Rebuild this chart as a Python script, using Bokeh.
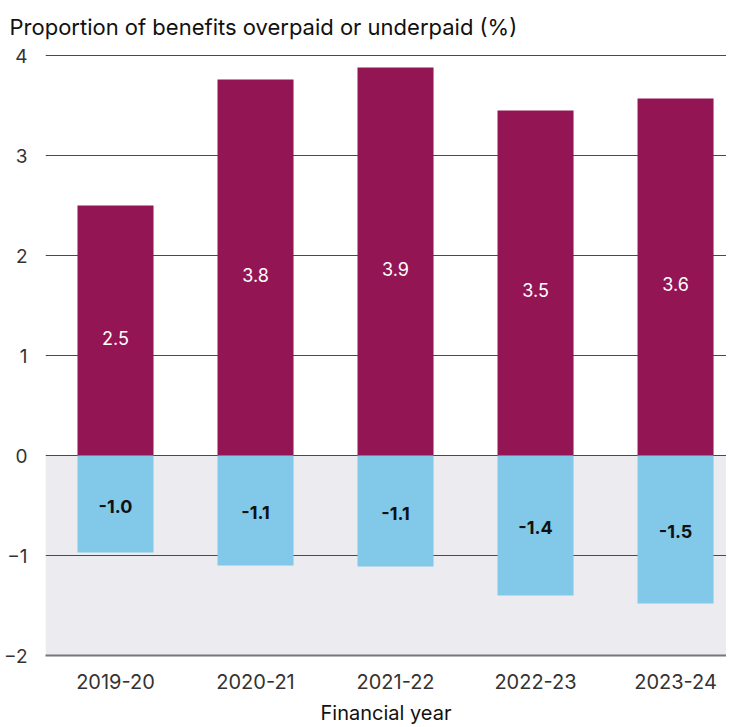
from bokeh.plotting import figure
from bokeh.models import (ColumnDataSource, Range1d, FixedTicker, BoxAnnotation, Title)
from bokeh.core.properties import value
from bokeh.embed import file_html
from bokeh.resources import INLINE

# ---- data ----
years = ["2019-20", "2020-21", "2021-22", "2022-23", "2023-24"]
overpaid = [2.5, 3.76, 3.88, 3.45, 3.57]
underpaid = [-0.97, -1.10, -1.11, -1.40, -1.48]
overpaid_labels = ["2.5", "3.8", "3.9", "3.5", "3.6"]
underpaid_labels = ["-1.0", "-1.1", "-1.1", "-1.4", "-1.5"]
y_ticks = [-2, -1, 0, 1, 2, 3, 4]

title_text = "Proportion of benefits overpaid or underpaid (%)"
x_title = "Financial year"

FONT = "Inter"
PURPLE = "#941554"
BLUE = "#82c8e8"

xs = list(range(len(years)))
src = ColumnDataSource(dict(
    x=xs, over=overpaid, under=underpaid,
    over_mid=[v / 2 for v in overpaid], under_mid=[v / 2 for v in underpaid],
    over_lab=overpaid_labels, under_lab=underpaid_labels,
))

p = figure(frame_width=681, frame_height=601, output_backend="svg", toolbar_location=None,
           x_range=Range1d(-0.5, 4.364), y_range=Range1d(-2, 4.01),
           min_border_left=36, min_border_right=0, min_border_top=0,
           min_border_bottom=0)
p.outline_line_color = None
p.background_fill_color = "white"

t = Title(text=title_text, align="left", offset=-36, standoff=26,
          vertical_align="top",
          text_font=FONT, text_font_size="22px", text_font_style="normal",
          text_color="#111111")
p.add_layout(t, "above")

# shaded negative region
p.add_layout(BoxAnnotation(bottom=-2, top=0, fill_color="#ecebf0", fill_alpha=1,
                           line_color=None, level="image"))

p.xgrid.grid_line_color = None
p.ygrid.ticker = FixedTicker(ticks=[-1, 0, 1, 2, 3, 4])
p.ygrid.grid_line_color = "#4a4a4a"
p.ygrid.grid_line_width = 1

p.vbar(x="x", top="over", bottom=0, width=0.543, source=src,
       fill_color=PURPLE, line_color=None)
p.vbar(x="x", top=0, bottom="under", width=0.543, source=src,
       fill_color=BLUE, line_color=None)

p.text(x="x", y="over_mid", text="over_lab", source=src,
       text_align="center", text_baseline="middle", y_offset=7,
       text_color="white", text_font=value(FONT), text_font_size="18px")
p.text(x="x", y="under_mid", text="under_lab", source=src,
       text_align="center", text_baseline="middle", y_offset=2,
       text_color="#111111", text_font=value(FONT), text_font_size="18px",
       text_font_style="bold")

# y axis
p.yaxis.ticker = FixedTicker(ticks=y_ticks)
p.yaxis.axis_line_color = None
p.yaxis.major_tick_line_color = None
p.yaxis.minor_tick_line_color = None
p.yaxis.major_label_standoff = 12
p.yaxis.major_label_text_font = FONT
p.yaxis.major_label_text_font_size = "19px"
p.yaxis.major_label_text_color = "#333333"

# x axis
p.xaxis.ticker = FixedTicker(ticks=xs)
p.xaxis.major_label_overrides = {i: y for i, y in zip(xs, years)}
p.xaxis.axis_line_color = "#777777"
p.xaxis.axis_line_width = 2
p.xaxis.major_tick_line_color = None
p.xaxis.minor_tick_line_color = None
p.xaxis.major_label_standoff = 12
p.xaxis.major_label_text_font = FONT
p.xaxis.major_label_text_font_size = "20px"
p.xaxis.major_label_text_color = "#333333"
p.xaxis.axis_label = x_title
p.xaxis.axis_label_text_font = FONT
p.xaxis.axis_label_text_font_size = "20px"
p.xaxis.axis_label_text_font_style = "normal"
p.xaxis.axis_label_text_color = "#111111"
p.xaxis.axis_label_standoff = 9

open("out.html", "w").write(file_html(p, INLINE))
